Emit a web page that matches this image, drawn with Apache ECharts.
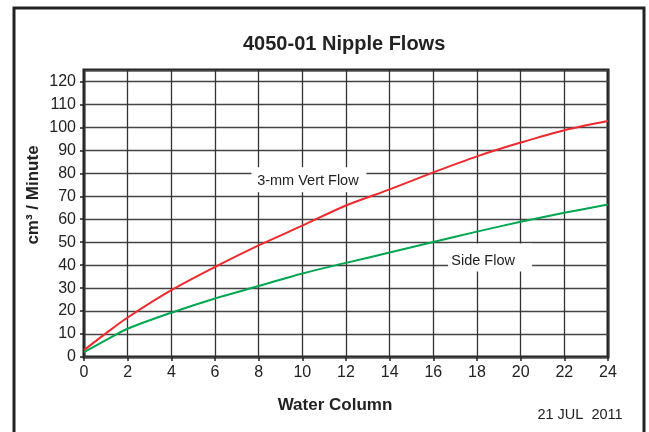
<!DOCTYPE html>
<html>
<head>
<meta charset="utf-8">
<script src="https://cdn.jsdelivr.net/npm/echarts@6/dist/echarts.min.js"></script>
<style>
  html, body { margin: 0; padding: 0; background: #fff; }
  #main { width: 649px; height: 432px; }
</style>
</head>
<body>
<div id="main"></div>
<script>
// water column (x) and the two flow curves
const waterColumn = [0, 1, 2, 4, 6, 8, 10, 12, 14, 16, 18, 20, 22, 24];
const vertFlow = [3.0, 10.3, 17.2, 29.1, 39.2, 48.6, 57.2, 66, 73, 80.4, 87.4, 93.4, 98.8, 102.8];
const sideFlow = [2.1, 7.3, 12.3, 19.3, 25.5, 30.9, 36.4, 41, 45.5, 50.1, 54.6, 58.9, 62.8, 66.4];

const xTicks = [0, 2, 4, 6, 8, 10, 12, 14, 16, 18, 20, 22, 24];
const yTicks = [0, 10, 20, 30, 40, 50, 60, 70, 80, 90, 100, 110, 120];

const font = 'Liberation Sans, Arial, sans-serif';
const ink = '#222';

function pairs(xs, ys) {
  let out = [];
  for (let i = 0; i < xs.length; ++i) {
    out.push([xs[i], ys[i]]);
  }
  return out;
}

const myChart = echarts.init(document.getElementById('main'));

const option = {
  animation: false,
  backgroundColor: '#fff',
  title: {
    text: '4050-01 Nipple Flows',
    left: 238,
    top: 29,
    textStyle: { fontFamily: font, fontSize: 20, fontWeight: 'bold', color: ink }
  },
  grid: {
    left: 84,
    right: 41,
    top: 70,
    bottom: 75,
    show: true,
    borderColor: ink,
    borderWidth: 3,
    backgroundColor: '#fff'
  },
  xAxis: {
    type: 'value',
    min: xTicks[0],
    max: xTicks[xTicks.length - 1],
    interval: 2,
    axisLine: { show: false },
    axisTick: { show: true, length: 4, lineStyle: { color: ink, width: 1.5 } },
    axisLabel: { fontFamily: font, fontSize: 16, color: ink, margin: 8 },
    splitLine: { show: true, lineStyle: { color: '#333', width: 1.3 } }
  },
  yAxis: {
    type: 'value',
    min: 0,
    max: 125,
    interval: 10,
    axisLine: { show: false },
    axisTick: { show: true, length: 4, lineStyle: { color: ink, width: 1.5 } },
    axisLabel: {
      fontFamily: font, fontSize: 16, color: ink, margin: 8,
      showMaxLabel: false,
      formatter: function (v) { return yTicks.indexOf(v) >= 0 ? String(v) : ''; }
    },
    splitLine: { show: true, lineStyle: { color: '#444', width: 1.3 } }
  },
  series: [{
    name: '3-mm Vert Flow',
    type: 'line',
    smooth: 0.3,
    symbol: 'none',
    data: pairs(waterColumn, vertFlow),
    lineStyle: { color: '#ee2a2e', width: 2 },
    markPoint: {
      symbol: 'rect',
      symbolSize: [115, 25],
      itemStyle: { color: '#fff' },
      label: {
        show: true, position: 'inside', offset: [-1, 1],
        fontFamily: font, fontSize: 14.5, color: ink,
        formatter: '3-mm Vert Flow'
      },
      data: [{ coord: [10.3, 77.2] }]
    }
  }, {
    name: 'Side Flow',
    type: 'line',
    smooth: 0.3,
    symbol: 'none',
    data: pairs(waterColumn, sideFlow),
    lineStyle: { color: '#00a651', width: 2 },
    markPoint: {
      symbol: 'rect',
      symbolSize: [84, 28],
      itemStyle: { color: '#fff' },
      label: {
        show: true, position: 'inside', offset: [-7, 3],
        fontFamily: font, fontSize: 14.5, color: ink,
        formatter: 'Side Flow'
      },
      data: [{ coord: [18.6, 43.3] }]
    }
  }],
  graphic: [{
    type: 'rect',
    shape: { x: 14, y: 8, width: 630, height: 460 },
    style: { fill: 'none', stroke: ink, lineWidth: 3 },
    silent: true
  }, {
    type: 'text',
    x: 33,
    y: 195,
    rotation: Math.PI / 2,
    style: {
      text: 'cm³ / Minute', textAlign: 'center', textVerticalAlign: 'middle',
      fontFamily: font, fontSize: 17, fontWeight: 'bold', fill: ink
    }
  }, {
    type: 'text',
    x: 335,
    y: 405,
    style: {
      text: 'Water Column', textAlign: 'center', textVerticalAlign: 'middle',
      fontFamily: font, fontSize: 17, fontWeight: 'bold', fill: ink
    }
  }, {
    type: 'text',
    x: 580,
    y: 415,
    style: {
      text: '21 JUL  2011', textAlign: 'center', textVerticalAlign: 'middle',
      fontFamily: font, fontSize: 14.5, fill: ink
    }
  }]
};

myChart.setOption(option);
</script>
</body>
</html>
